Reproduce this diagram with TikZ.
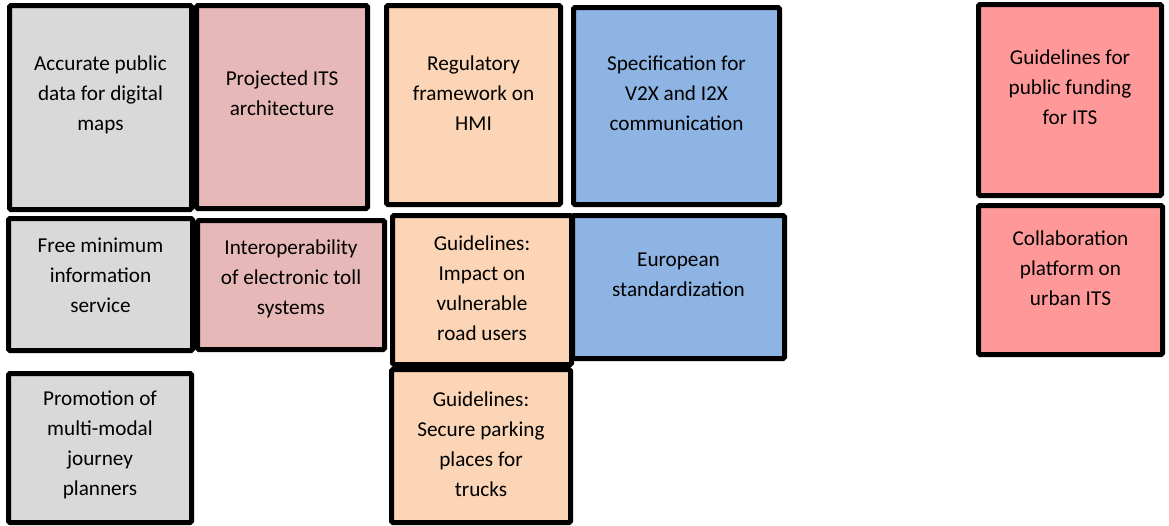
\documentclass[tikz,border=0pt]{standalone}
\usepackage{fontspec}
\setmainfont{Carlito}
\usepackage{tikz}

\definecolor{boxgrey}{HTML}{D9D9D9}
\definecolor{boxrose}{HTML}{E6B9B8}
\definecolor{boxpeach}{HTML}{FBD5B5}
\definecolor{boxblue}{HTML}{8EB4E3}
\definecolor{boxred}{HTML}{FF9999}

\tikzset{
    tile/.style={draw=black,line width=5pt,rounded corners=1.5pt},
    greytile/.style={tile,fill=boxgrey},
    rosetile/.style={tile,fill=boxrose},
    peachtile/.style={tile,fill=boxpeach},
    bluetile/.style={tile,fill=boxblue},
    redtile/.style={tile,fill=boxred},
    lbl/.style={align=center,inner sep=0pt,font=\fontsize{21.2}{30}\selectfont}
}

\begin{document}
\begin{tikzpicture}[x=1pt,y=-1pt]

    \useasboundingbox (0,0) rectangle (1169,525);

    % first column
    \filldraw[greytile] (9.5,5.5) rectangle (191.5,209.5);
    \filldraw[greytile] (8.5,218.5) rectangle (192.5,350.5);
    \filldraw[greytile] (8.5,373.5) rectangle (191.5,522.5);
    \node[lbl] (maps) at (100.5,95) {Accurate public\\data for digital\\maps};
    \node[lbl] (info) at (100.5,275.5) {Free minimum\\information\\service};
    \node[lbl] (planners) at (100,445) {Promotion of\\multi-modal\\journey\\planners};

    % second column
    \filldraw[rosetile] (196.5,5.5) rectangle (367.5,208.5);
    \filldraw[rosetile] (197.5,220.5) rectangle (384.5,349.5);
    \node[lbl] (arch) at (282,93.5) {Projected ITS\\architecture};
    \node[lbl] (toll) at (291,278.5) {Interoperability\\of electronic toll\\systems};

    % third column
    \filldraw[peachtile] (386.5,5.5) rectangle (560.5,204.5);
    \filldraw[peachtile] (392.5,215.5) rectangle (571.5,364.5);
    \filldraw[peachtile] (391.5,369.5) rectangle (570.5,522.5);
    \node[lbl] (hmi) at (473.5,93) {Regulatory\\framework on\\HMI};
    \node[lbl] (vru) at (482,288) {Guidelines:\\Impact on\\vulnerable\\road users};
    \node[lbl] (parking) at (481,444) {Guidelines:\\Secure parking\\places for\\trucks};

    % fourth column
    \filldraw[bluetile] (573.5,7.5) rectangle (779.5,204.5);
    \filldraw[bluetile] (572.5,215.5) rectangle (784.5,358.5);
    \node[lbl] (v2x) at (676.5,93.5) {Specification for\\V2X and I2X\\communication};
    \node[lbl] (std) at (678.5,274.5) {European\\standardization};

    % right column
    \filldraw[redtile] (978.5,4.5) rectangle (1161.5,195.5);
    \filldraw[redtile] (978.5,205.5) rectangle (1162.5,354.5);
    \node[lbl] (funding) at (1070,87.5) {Guidelines for\\public funding\\for ITS};
    \node[lbl] (urban) at (1070.5,268.5) {Collaboration\\platform on\\urban ITS};

\end{tikzpicture}
\end{document}
